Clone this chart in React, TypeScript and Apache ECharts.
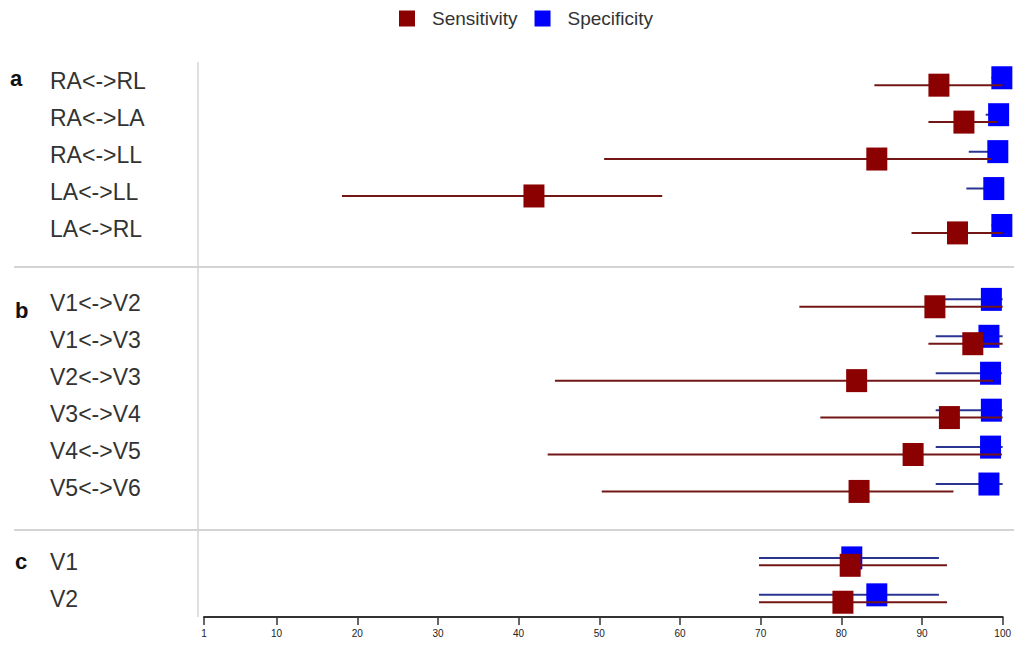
import React, { useEffect, useRef } from "react";
import * as echarts from "echarts";

// Row labels (empty strings are the gaps between panels)
const rows = [
  "RA<->RL", "RA<->LA", "RA<->LL", "LA<->LL", "LA<->RL", "",
  "V1<->V2", "V1<->V3", "V2<->V3", "V3<->V4", "V4<->V5", "V5<->V6", "",
  "V1", "V2",
];
const panelLetters = ["a", "b", "c"];

const sensEst = [92.1, 95.2, 84.4, 41.9, 94.4, null, 91.6, 96.3, 81.9, 93.4, 88.9, 82.2, null, 81.1, 80.2];
const sensLow = [84.1, 90.8, 50.6, 18.1, 88.7, null, 74.8, 90.8, 44.5, 77.4, 43.6, 50.3, null, 69.8, 69.8];
const sensHigh = [100, 99.4, 98.6, 57.8, 100, null, 100, 100, 98.8, 100, 99.9, 93.9, null, 93.1, 93.1];

const specEst = [99.9, 99.5, 99.4, 98.9, 99.9, null, 98.6, 98.3, 98.5, 98.6, 98.5, 98.3, null, 81.3, 84.4];
const specLow = [98.6, 97.9, 95.8, 95.5, 98.6, null, 92.0, 91.7, 91.7, 91.7, 91.7, 91.7, null, 69.8, 69.8];
const specHigh = [100, 100, 100, 100, 100, null, 100, 100, 99.9, 100, 100, 100, null, 92.1, 92.1];

const xTicks = [1, 10, 20, 30, 40, 50, 60, 70, 80, 90, 100];

const RED = "#8b0000";
const BLUE = "#0000ff";
const RED_LINE = "#731616";
const BLUE_LINE = "#2a3592";
const OFF = 3.7;

function ciData(lo: (number | null)[], hi: (number | null)[]) {
  const out: number[][] = [];
  lo.forEach((l, i) => {
    const h = hi[i];
    if (l != null && h != null) out.push([i, l, h]);
  });
  return out;
}
function estData(est: (number | null)[]) {
  const out: number[][] = [];
  est.forEach((v, i) => {
    if (v != null) out.push([v, i]);
  });
  return out;
}
function ciRenderer(color: string, off: number) {
  return (params: any, api: any) => {
    const y = api.value(0);
    const p1 = api.coord([api.value(1), y]);
    const p2 = api.coord([api.value(2), y]);
    return {
      type: "line",
      shape: { x1: p1[0], y1: p1[1] + off, x2: p2[0], y2: p2[1] + off },
      style: { stroke: color, lineWidth: 2 },
    };
  };
}

export default function App() {
  const ref = useRef<HTMLDivElement>(null);
  useEffect(() => {
    if (!ref.current) return;
    const chart = echarts.init(ref.current, null, { renderer: "svg" });
    const font = "'Liberation Sans', Arial, sans-serif";
    chart.setOption({
      animation: false,
      backgroundColor: "#ffffff",
      legend: {
        data: ["Sensitivity", "Specificity"],
        left: 399,
        top: 9,
        padding: 0,
        icon: "rect",
        itemWidth: 16,
        itemHeight: 16,
        itemGap: 17,
        textStyle: {
          fontSize: 19,
          color: "#333",
          fontFamily: font,
          padding: [0, 0, 0, 12],
        },
      },
      grid: { left: 204, right: 11, top: 63, bottom: 34 },
      xAxis: {
        type: "value",
        min: 1,
        max: 100,
        splitLine: { show: false },
        axisLine: { show: true, lineStyle: { color: "#333", width: 2 } },
        axisTick: {
          show: true,
          length: 8,
          customValues: xTicks,
          lineStyle: { color: "#333", width: 1.5 },
        },
        axisLabel: {
          customValues: xTicks,
          fontSize: 10,
          color: "#222",
          margin: 11,
          fontFamily: font,
        },
      },
      yAxis: {
        type: "category",
        data: rows,
        inverse: true,
        axisLine: { show: false },
        axisTick: { show: false },
        splitLine: { show: false },
        axisLabel: {
          align: "left",
          margin: 154,
          fontSize: 23,
          color: "#333",
          fontFamily: font,
          padding: [9, 0, 0, 0],
        },
      },
      graphic: [
        { type: "line", shape: { x1: 198, y1: 62, x2: 198, y2: 617 }, style: { stroke: "#d4d4d4", lineWidth: 1.5 }, z: 0 },
        { type: "line", shape: { x1: 14, y1: 267, x2: 1014, y2: 267 }, style: { stroke: "#d4d4d4", lineWidth: 2 }, z: 0 },
        { type: "line", shape: { x1: 14, y1: 530, x2: 1014, y2: 530 }, style: { stroke: "#d4d4d4", lineWidth: 2 }, z: 0 },
        { type: "text", x: 10, y: 78, style: { text: panelLetters[0], fontSize: 22, fontWeight: "bold", fill: "#111", fontFamily: font, verticalAlign: "middle" } },
        { type: "text", x: 15, y: 310, style: { text: panelLetters[1], fontSize: 22, fontWeight: "bold", fill: "#111", fontFamily: font, verticalAlign: "middle" } },
        { type: "text", x: 15, y: 561, style: { text: panelLetters[2], fontSize: 22, fontWeight: "bold", fill: "#111", fontFamily: font, verticalAlign: "middle" } },
      ],
      series: [
        {
          name: "specCI",
          type: "custom",
          renderItem: ciRenderer(BLUE_LINE, -OFF),
          encode: { x: [1, 2], y: 0 },
          data: ciData(specLow, specHigh),
          z: 2,
        },
        {
          name: "Specificity",
          type: "scatter",
          symbol: "rect",
          symbolSize: [21, 23],
          symbolOffset: [0, -OFF],
          itemStyle: { color: BLUE, opacity: 1 },
          data: estData(specEst),
          clip: false,
          z: 3,
        },
        {
          name: "sensCI",
          type: "custom",
          renderItem: ciRenderer(RED_LINE, OFF),
          encode: { x: [1, 2], y: 0 },
          data: ciData(sensLow, sensHigh),
          z: 4,
        },
        {
          name: "Sensitivity",
          type: "scatter",
          symbol: "rect",
          symbolSize: [21, 23],
          symbolOffset: [0, OFF],
          itemStyle: { color: RED, opacity: 1 },
          data: estData(sensEst),
          clip: false,
          z: 5,
        },
      ],
    });
    return () => chart.dispose();
  }, []);
  return (
    <div
      ref={ref}
      style={{ position: "fixed", left: 0, top: 0, width: 1014, height: 651 }}
    />
  );
}
